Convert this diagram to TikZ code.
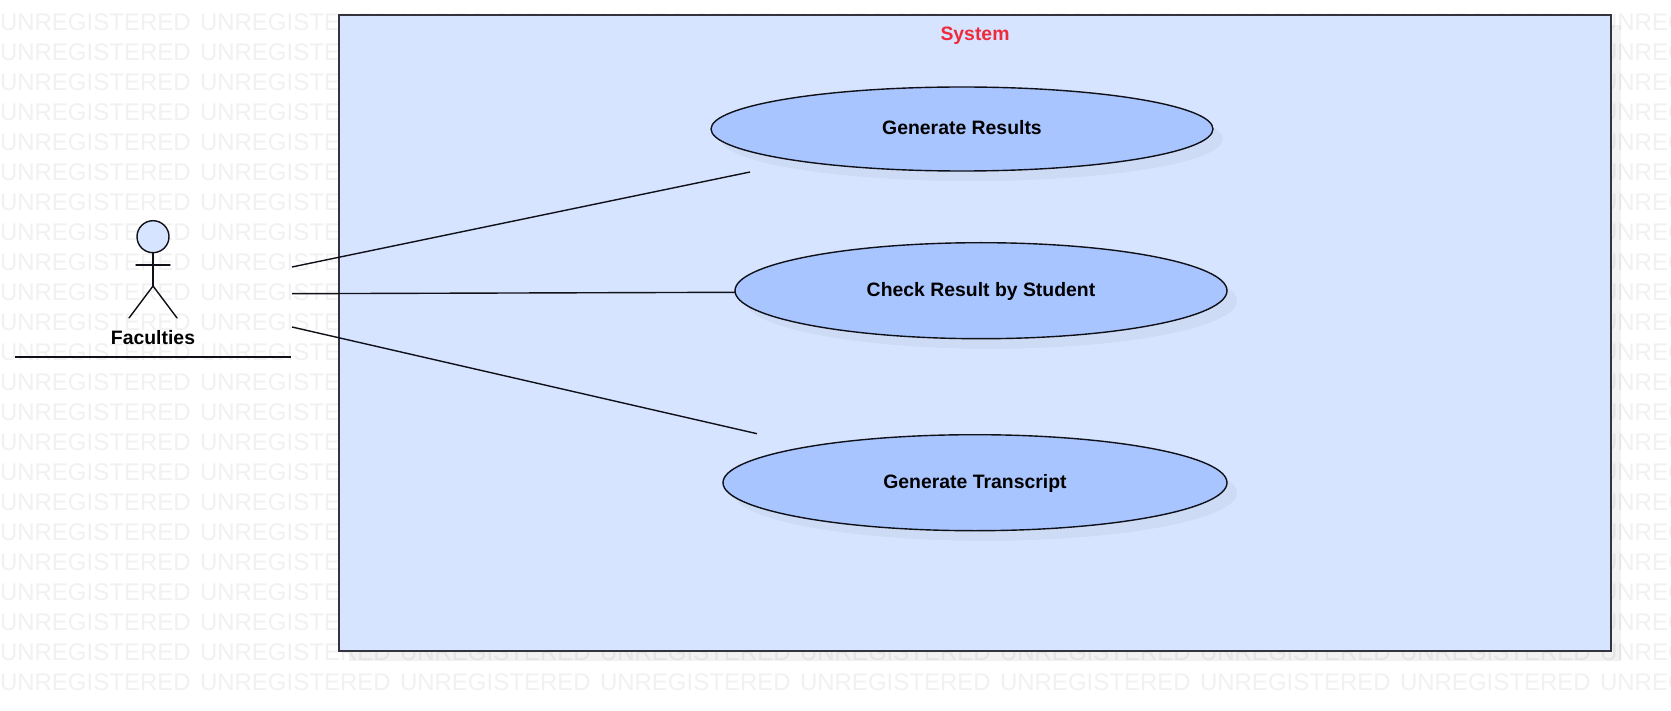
\documentclass[tikz,border=0pt]{standalone}
\usepackage{fontspec}
\setmainfont{Liberation Sans}
\usetikzlibrary{shapes.geometric}
\definecolor{wmgray}{HTML}{F1F1F1}
\definecolor{sysfill}{HTML}{D6E4FF}
\definecolor{ucfill}{HTML}{A9C5FF}
\definecolor{sysline}{HTML}{34343F}
\definecolor{sysred}{HTML}{EE2B3B}
\definecolor{inkline}{HTML}{101018}
\newcommand{\bodyfont}{\fontsize{19.4pt}{21pt}\selectfont\bfseries}
\tikzset{
  x=1pt,y=-1pt,
  watermark/.style={anchor=base west,inner sep=0pt,outer sep=0pt,text=wmgray,font=\fontsize{24pt}{26pt}\selectfont},
  systembox/.style={rectangle,draw=sysline,line width=2pt,fill=sysfill,inner sep=0pt,outer sep=0pt},
  softshadow/.style={fill=black,fill opacity=0.05,draw=none},
  softershadow/.style={fill=black,fill opacity=0.04,draw=none},
  usecase/.style={ellipse,draw=inkline,line width=1.4pt,fill=ucfill,inner sep=0pt,outer sep=0pt,text=black,font=\bodyfont,text height=12pt,text depth=0pt},
  titletext/.style={anchor=base,inner sep=0pt,font=\bodyfont},
  link/.style={draw=inkline,line width=1.4pt},
  actorline/.style={draw=inkline,line width=1.4pt,line cap=round,line join=round},
}
\begin{document}
\begin{tikzpicture}
\useasboundingbox (0,0) rectangle (1671,711);
\clip (0,0) rectangle (1671,711);
\fill[white] (0,0) rectangle (1671,711);
% watermark
\foreach \r in {0,...,22}{
  \foreach \c in {0,...,8}{
    \node[watermark] (wm-\r-\c) at ({200*\c},{30.7+30*\r}) {UNREGISTERED};
  }
}
% system boundary
\fill[softshadow] (349,25) rectangle (1621,661);
\node[systembox,minimum width=1272pt,minimum height=636pt] (system) at (975,333) {};
\node[titletext,text=sysred] (systemlabel) at (975,40.3) {System};
% use case shadows
\fill[softershadow] (972,139) ellipse [x radius=251,y radius=42];
\fill[softershadow] (991,300.7) ellipse [x radius=246,y radius=48];
\fill[softershadow] (985,492.7) ellipse [x radius=252,y radius=48];
% use cases
\node[usecase,minimum width=502pt,minimum height=84pt] (results) at (962,129) {Generate Results};
\node[usecase,minimum width=492pt,minimum height=96pt] (check) at (981,290.7) {Check Result by Student};
\node[usecase,minimum width=504pt,minimum height=96pt] (transcript) at (975,482.7) {Generate Transcript};
% actor
\node[circle,draw=inkline,line width=1.4pt,fill=sysfill,minimum size=32pt,inner sep=0pt,outer sep=0pt] (head) at (153,236.7) {};
\coordinate (hip) at (153,286);
\coordinate (armL) at (136,265);
\coordinate (armR) at (170,265);
\coordinate (footL) at (129,318);
\coordinate (footR) at (177,318);
\draw[actorline] (head.south) -- (hip);
\draw[actorline] (armL) -- (armR);
\draw[actorline] (footL) -- (hip) -- (footR);
\node[titletext,text=black] (faculties) at (153,344.3) {Faculties};
\coordinate (ruleL) at (15,357);
\coordinate (ruleR) at (291,357);
\draw[link] (ruleL) -- (ruleR);
% connectors
\coordinate (a1) at (292,267);
\coordinate (a2) at (292,293.7);
\coordinate (a3) at (292,327);
\coordinate (e1) at (750,172);
\coordinate (e2) at (735,292.3);
\coordinate (e3) at (757,433.7);
\draw[link] (a1) -- (e1);
\draw[link] (a2) -- (e2);
\draw[link] (a3) -- (e3);
\end{tikzpicture}
\end{document}
